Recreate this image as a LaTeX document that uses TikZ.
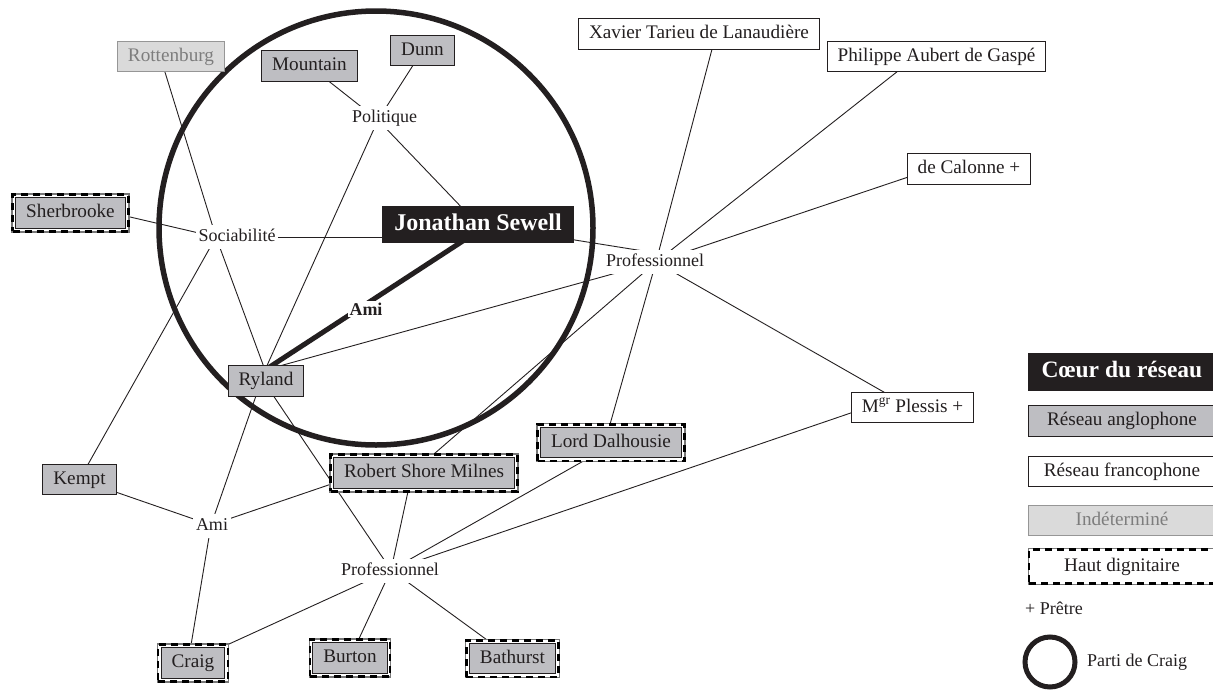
\documentclass[tikz,border=0pt]{standalone}
\usepackage{fontspec}
\setmainfont{Liberation Serif}
\usetikzlibrary{backgrounds}
\definecolor{ink}{RGB}{35,31,32}
\definecolor{boxgray}{RGB}{190,190,194}
\definecolor{undetfill}{RGB}{218,218,218}
\definecolor{undetline}{RGB}{150,150,150}
\definecolor{undettext}{RGB}{125,125,125}
\definecolor{bandgray}{RGB}{120,120,120}
\tikzset{
  base/.style={font=\fontsize{19.2}{23}\selectfont, text=ink, text height=13.5pt, text depth=4.5pt, inner ysep=6.3pt, inner xsep=10.5pt},
  angl/.style={base, draw=ink, line width=1.1pt, fill=boxgray},
  fran/.style={base, draw=ink, line width=1.1pt, fill=white},
  undet/.style={base, draw=undetline, line width=1.1pt, fill=undetfill, text=undettext},
  hublabel/.style={font=\fontsize{18}{22}\selectfont, text=ink, text height=13pt, text depth=4.5pt, fill=white, inner sep=3pt},
  core/.style={font=\bfseries\fontsize{24}{28}\selectfont, text=white, fill=ink, text height=17pt, text depth=5.5pt, inner xsep=12pt, inner ysep=7.5pt},
  digframe/.style={base, fill=white, draw=black, line width=2.6pt, dash pattern=on 7pt off 5pt, preaction={draw=bandgray, solid, line width=2.6pt}, inner xsep=13.5pt, inner ysep=9.3pt},
  edge/.style={draw=ink, line width=0.9pt},
  amiedge/.style={draw=ink, line width=5pt},
  partycircle/.style={draw=ink, line width=5.5pt},
  plain/.style={font=\fontsize{18}{22}\selectfont, text=ink, inner sep=0pt}
}
\newcommand{\dignode}[3]{%
  \node[digframe] at #2 {\phantom{#3}};
  \node[angl] (#1) at #2 {#3};}
\begin{document}
\begin{tikzpicture}[x=1pt,y=-1pt]
\path[use as bounding box] (0,0) rectangle (1213,691);

% hubs and ports
\coordinate (polH) at (378,120);
\coordinate (socH) at (216,237);
\coordinate (prfH) at (656,262);
\coordinate (prfJ) at (656,253);
\coordinate (amiH) at (211,525);
\coordinate (prlH) at (391,570);
\coordinate (rylU) at (265,370);
\coordinate (rylL) at (256,370);
\coordinate (jsA) at (469,237);
\coordinate (jsL) at (478,237);
\coordinate (rotP) at (160,56);
\coordinate (sherP) at (70,203);
\coordinate (xavP) at (716,34);
\coordinate (philP) at (917,56);
\coordinate (calP) at (935,168);
\coordinate (plesP) at (910,407);
\coordinate (plesL) at (880,403);
\coordinate (lordP) at (605,442);
\coordinate (lordL) at (617,442);
\coordinate (rsmP) at (412,473);
\coordinate (rsmA) at (352,477);
\coordinate (craigP) at (205,655);
\coordinate (craigA) at (188,663);

% nodes
\node[undet] (rot) at (171,56.5) {Rottenburg};
\node[angl] (mount) at (309.5,66) {Mountain};
\node[angl] (dunn) at (422.5,50.5) {Dunn};
\node[fran] (xav) at (699,34) {Xavier Tarieu de Lanaudière};
\node[fran] (phil) at (936.5,56.5) {Philippe Aubert de Gaspé};
\node[fran] (cal) at (969,169) {de Calonne +};
\dignode{sher}{(70.5,213)}{Sherbrooke}
\node[core] (js) at (478,224.5) {Jonathan Sewell};
\node[angl] (ryl) at (266,381) {Ryland};
\node[angl] (kempt) at (79.5,479.5) {Kempt};
\dignode{rsm}{(424,473)}{Robert Shore Milnes}
\dignode{lord}{(611,442.5)}{Lord Dalhousie}
\node[fran] (ples) at (912.5,407.5) {M\textsuperscript{gr} Plessis +};
\dignode{craig}{(193,663)}{Craig}
\dignode{burton}{(350,658)}{Burton}
\dignode{bath}{(512.5,658.5)}{Bathurst}

\node[hublabel] (pol) at (384.5,118) {Politique};
\node[hublabel] (soc) at (237,237) {Sociabilité};
\node[hublabel] (prof) at (655,262) {Professionnel};
\node[hublabel] (ami) at (212,526) {Ami};
\node[hublabel] (profl) at (390,571) {Professionnel};
\node[font=\bfseries\fontsize{18}{22}\selectfont, text=ink, fill=white, inner sep=2pt] (amilab) at (366,309) {Ami};

% legend
\node[core, font=\bfseries\fontsize{23.5}{28}\selectfont, minimum width=188pt] (lcore) at (1122,372) {Cœur du réseau};
\node[angl, minimum width=187pt] (lang) at (1122,421) {Réseau anglophone};
\node[fran, minimum width=187pt] (lfra) at (1122,471.5) {Réseau francophone};
\node[undet, minimum width=187pt] (lund) at (1122,520.5) {Indéterminé};
\node[digframe, minimum width=186pt, minimum height=34.5pt, inner ysep=6pt] (ldig) at (1122,566.5) {Haut dignitaire};
\node[plain, anchor=west] (lpre) at (1025,608) {+ Prêtre};
\node[plain, anchor=west] (lpar) at (1087,662) {Parti de Craig};
\draw[partycircle, line width=5pt] (1050,662) circle[radius=25pt];

% edges
\begin{scope}[on background layer]
\draw[edge] (rotP) -- (socH);
\draw[edge] (sherP) -- (socH);
\draw[edge] (socH) -- (kempt.center);
\draw[edge] (socH) -- (rylU);
\draw[edge] (socH) -- (jsL);
\draw[edge] (mount.center) -- (polH);
\draw[edge] (dunn.center) -- (polH);
\draw[edge] (polH) -- (js.center);
\draw[edge] (polH) -- (rylU);
\draw[amiedge] (rylU) -- (jsA);
\draw[edge] (js.center) -- (prfJ);
\draw[edge] (prfH) -- (xavP);
\draw[edge] (prfH) -- (philP);
\draw[edge] (prfH) -- (calP);
\draw[edge] (prfH) -- (plesP);
\draw[edge] (prfH) -- (lordP);
\draw[edge] (prfH) -- (rsmP);
\draw[edge] (prfH) -- (rylU);
\draw[edge] (rylU) -- (amiH);
\draw[edge] (rylL) -- (prlH);
\draw[edge] (kempt.center) -- (amiH);
\draw[edge] (amiH) -- (rsmA);
\draw[edge] (amiH) -- (craigA);
\draw[edge] (rsmP) -- (prlH);
\draw[edge] (lordL) -- (prlH);
\draw[edge] (plesL) -- (prlH);
\draw[edge] (prlH) -- (craigP);
\draw[edge] (prlH) -- (burton.center);
\draw[edge] (prlH) -- (bath.center);
\draw[partycircle] (376,228) circle[radius=217pt];
\end{scope}
\end{tikzpicture}
\end{document}
